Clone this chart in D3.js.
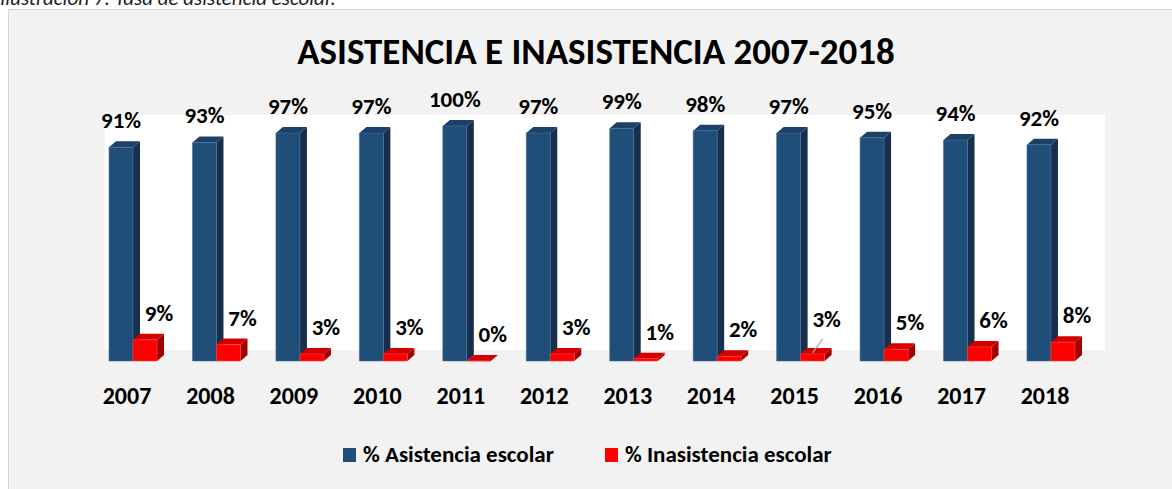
<!DOCTYPE html>
<html>
<head>
<meta charset="utf-8">
<script src="https://cdn.jsdelivr.net/npm/d3@7"></script>
<style>
  html, body { margin: 0; padding: 0; background: #ffffff; overflow: hidden; }
  svg { display: block; font-family: Carlito, Calibri, "Open Sans", sans-serif; }
</style>
</head>
<body>
<div id="chart"></div>
<script>
const years = ['2007', '2008', '2009', '2010', '2011', '2012', '2013', '2014', '2015', '2016', '2017', '2018'];
const asistencia = [91, 93, 97, 97, 100, 97, 99, 98, 97, 95, 94, 92];
const inasistencia = [9, 7, 3, 3, 0, 3, 1, 2, 3, 5, 6, 8];
const seriesNames = ['% Asistencia escolar', '% Inasistencia escolar'];

const WIDTH = 1172;
const HEIGHT = 489;
const DEPTH = { dx: 7, dy: 6 };
const BAR_W = 24;

const COLORS = [
  { front: '#1f4e79', top: '#1b4169', side: '#172f4c', stroke: '#4a6f95' },
  { front: '#ff0000', top: '#d40000', side: '#a30000', stroke: '#ff4040' }
];

const svg = d3
  .select('#chart')
  .append('svg')
  .attr('width', WIDTH)
  .attr('height', HEIGHT);

// caption above the chart frame (clipped at top in the source)
svg.append('text')
  .attr('x', 0)
  .attr('y', 5)
  .style('font-size', '21px')
  .style('font-style', 'italic')
  .style('fill', '#1f1f1f')
  .text('Ilustración 7: Tasa de asistencia escolar.');

// chart frame
svg.append('rect')
  .attr('x', 8.5)
  .attr('y', 9.5)
  .attr('width', 1200)
  .attr('height', 500)
  .attr('fill', '#f2f2f2')
  .attr('stroke', '#d4d4d4');

// back wall of the plot area
svg.append('rect')
  .attr('x', 105)
  .attr('y', 115)
  .attr('width', 1000)
  .attr('height', 235)
  .attr('fill', '#ffffff');

// title
svg.append('text')
  .attr('x', 596)
  .attr('y', 64)
  .attr('text-anchor', 'middle')
  .style('font-size', '37px')
  .style('font-weight', 'bold')
  .style('fill', '#000')
  .text('ASISTENCIA E INASISTENCIA 2007-2018');

// scales
const x = d3.scaleBand().domain(years).range([91.3, 1092.7]).padding(0);
const xSub = d3.scaleBand().domain([0, 1]).range([0, BAR_W * 2]);
const y = d3.scaleLinear().domain([0, 100]).range([361, 126]);

const rows = years.map((yr, i) => ({ year: yr, values: [asistencia[i], inasistencia[i]] }));

const groups = svg
  .selectAll('g.year')
  .data(rows)
  .join('g')
  .attr('class', 'year')
  .attr('transform', (d) => 'translate(' + (x(d.year) + (x.bandwidth() - BAR_W * 2) / 2) + ',0)');

const bars = groups
  .selectAll('g.bar')
  .data((d) => d.values.map((v, s) => ({ v: v, s: s, year: d.year })))
  .join('g')
  .attr('class', 'bar');

function facePoints(x0, x1, yTop, yBottom, face) {
  const dx = DEPTH.dx;
  const dy = DEPTH.dy;
  if (face === 'top') {
    return [[x0, yTop], [x1, yTop], [x1 + dx, yTop - dy], [x0 + dx, yTop - dy]];
  }
  if (face === 'side') {
    return [[x1, yTop], [x1 + dx, yTop - dy], [x1 + dx, yBottom - dy], [x1, yBottom]];
  }
  return [[x0, yTop], [x1, yTop], [x1, yBottom], [x0, yBottom]];
}

['side', 'top', 'front'].forEach((face) => {
  bars.append('polygon')
    .attr('class', face)
    .attr('points', (d) => {
      const x0 = xSub(d.s);
      const x1 = x0 + xSub.bandwidth();
      return facePoints(x0, x1, y(d.v), y(0), face).join(' ');
    })
    .attr('fill', (d) => COLORS[d.s][face])
    .attr('stroke', (d) => (face === 'front' ? COLORS[d.s].stroke : 'none'))
    .attr('stroke-width', 0.6);
});

// value labels
const LABEL_DX = [0, 14];
bars.append('text')
  .attr('x', (d) => xSub(d.s) + xSub.bandwidth() / 2 + LABEL_DX[d.s])
  .attr('y', (d) => y(d.v) - 19 - (d.s === 1 && d.year === '2015' ? 8 : 0))
  .attr('text-anchor', 'middle')
  .style('font-size', '23px')
  .style('font-weight', 'bold')
  .style('fill', '#000')
  .text((d) => d.v + '%');

// leader line for the moved 2015 label
bars.filter((d) => d.s === 1 && d.year === '2015')
  .append('line')
  .attr('x1', (d) => xSub(d.s) + xSub.bandwidth() / 2 + 10)
  .attr('y1', (d) => y(d.v) - 15)
  .attr('x2', (d) => xSub(d.s) + xSub.bandwidth() / 2)
  .attr('y2', (d) => y(d.v) - 1)
  .attr('stroke', '#a6a6a6')
  .attr('stroke-width', 1.2);

// category axis labels
svg.append('g')
  .selectAll('text')
  .data(years)
  .join('text')
  .attr('x', (d) => x(d) + x.bandwidth() / 2 - 6)
  .attr('y', 404)
  .attr('text-anchor', 'middle')
  .style('font-size', '24px')
  .style('font-weight', 'bold')
  .style('fill', '#000')
  .text((d) => d);

// legend
const legendX = [343, 605];
const legend = svg.append('g')
  .selectAll('g')
  .data(seriesNames)
  .join('g')
  .attr('transform', (d, i) => 'translate(' + legendX[i] + ',448)');

legend.append('rect')
  .attr('width', 13)
  .attr('height', 14)
  .attr('fill', (d, i) => COLORS[i].front);

legend.append('text')
  .attr('x', 20)
  .attr('y', 14)
  .style('font-size', '23px')
  .style('font-weight', 'bold')
  .style('fill', '#000')
  .text((d) => d);
</script>
</body>
</html>
